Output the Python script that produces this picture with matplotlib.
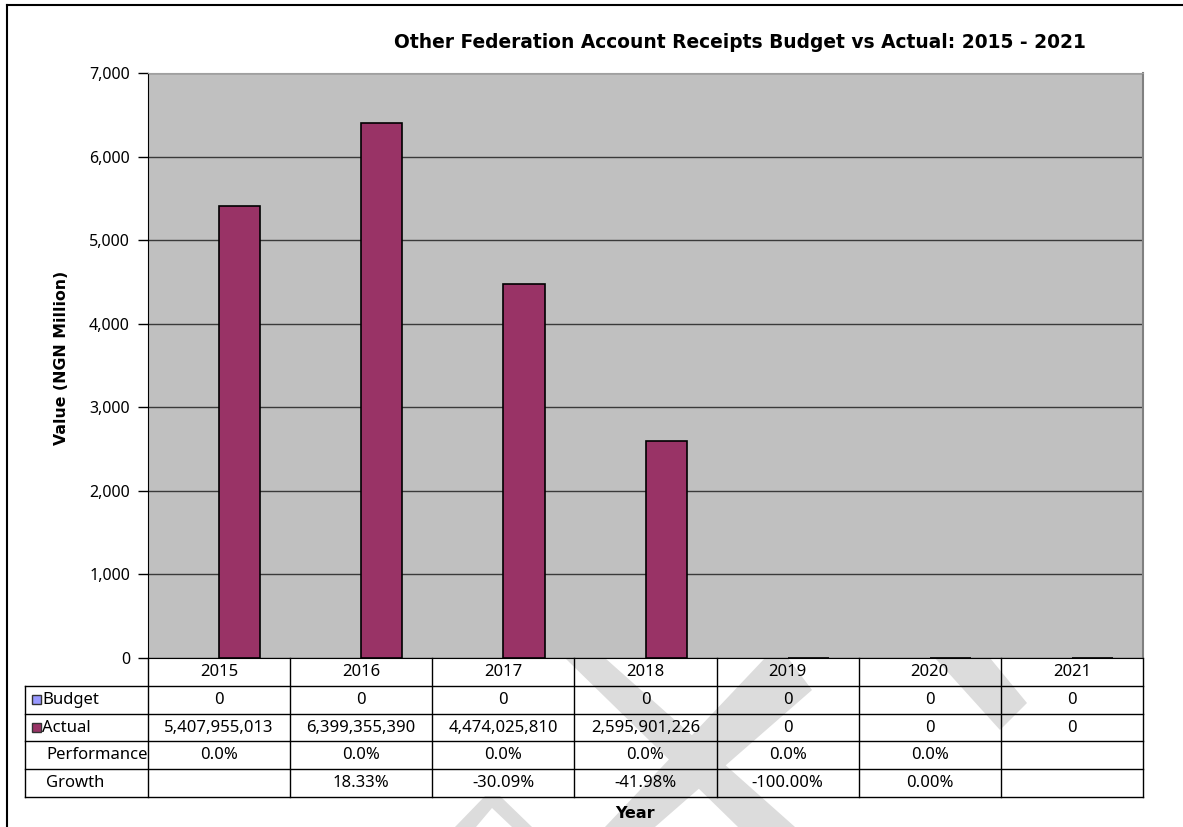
import numpy as np
import matplotlib.pyplot as plt
from matplotlib.lines import Line2D
from matplotlib.patches import Polygon, Rectangle
from matplotlib.ticker import FuncFormatter

plt.rcParams['font.family'] = ['Noto Sans', 'DejaVu Sans']

# data
years = ['2015', '2016', '2017', '2018', '2019', '2020', '2021']
budget = [0, 0, 0, 0, 0, 0, 0]
actual = [5407955013, 6399355390, 4474025810, 2595901226, 0, 0, 0]
performance = ['0.0%', '0.0%', '0.0%', '0.0%', '0.0%', '0.0%', '']
growth = ['', '18.33%', '-30.09%', '-41.98%', '-100.00%', '0.00%', '']

W, H = 1183, 827
fig = plt.figure(figsize=(W / 100, H / 100), dpi=100)
fig.patch.set_facecolor('white')

def fx(x):
    return x / W

def fy(y):
    return 1 - y / H

# watermark bits (sit behind the chart)
wm = [
    [(455, 827), (485, 796), (500, 796), (532, 827), (512, 827), (492, 808), (476, 827)],
    [(565, 658), (605, 658), (795, 827), (738, 827)],
    [(765, 658), (788, 658), (812, 690), (655, 827), (605, 827)],
    [(935, 658), (990, 658), (1027, 703), (1000, 730)],
]
for poly in wm:
    fig.add_artist(Polygon([(fx(a), fy(b)) for a, b in poly], closed=True,
                           transform=fig.transFigure, facecolor='#dcdcdc',
                           edgecolor='none', zorder=-5))

# outer frame (only top and left show)
fig.add_artist(Line2D([fx(7), fx(1183)], [fy(5), fy(5)], color='black', lw=1.5))
fig.add_artist(Line2D([fx(7), fx(7)], [fy(5), fy(827)], color='black', lw=1.5))

# main plot
L, R, T, B = 148, 1143, 73, 658
ax = fig.add_axes([fx(L), fy(B), (R - L) / W, (B - T) / H])
ax.set_facecolor('#c0c0c0')
x = np.arange(len(years))
bw = 0.29
ax.bar(x - bw / 2, np.array(budget) / 1e6, bw, color='#9999ff', edgecolor='none', zorder=3)
ax.bar(x + bw / 2, np.array(actual) / 1e6, bw, color='#993366', edgecolor='black', lw=1.2, zorder=3)
ax.set_xlim(-0.5, 6.5)
ax.set_ylim(0, 7000)
ax.set_yticks(np.arange(0, 7001, 1000))
ax.yaxis.set_major_formatter(FuncFormatter(lambda v, p: f'{v:,.0f}'))
ax.set_xticks([])
ax.tick_params(axis='y', direction='out', length=7, width=1, labelsize=11.5, pad=6)
ax.grid(axis='y', color='#3a3a3a', lw=1, zorder=1)
for s in ['left', 'bottom']:
    ax.spines[s].set_color('black')
ax.spines['top'].set_color('#a0a0a0')
ax.spines['right'].set_color('#808080')
ax.spines['right'].set_linewidth(1.5)

bold = ['DejaVu Sans']
fig.text(fx(740), fy(42), 'Other Federation Account Receipts Budget vs Actual: 2015 - 2021',
         ha='center', va='center', fontsize=13.4, fontweight='bold', family=bold)
fig.text(fx(62), fy(358), 'Value (NGN Million)', ha='center', va='center',
         rotation=90, fontsize=11.3, fontweight='bold', family=bold)
fig.text(fx(635), fy(813), 'Year', ha='center', va='center', fontsize=11.5,
         fontweight='bold', family=bold)

# data table under the plot
cw = (R - L) / 7
xl = -0.5 - (L - 25) / cw
tab = fig.add_axes([fx(25), fy(797), (R - 25) / W, (797 - B) / H])
tab.set_xlim(xl, 6.5)
tab.set_ylim(5, 0)
tab.set_axis_off()

for r in range(1, 6):
    tab.plot([xl, 6.5], [r, r], color='black', lw=1, clip_on=False)
for c in range(8):
    tab.plot([c - 0.5, c - 0.5], [0, 5], color='black', lw=1, clip_on=False)
tab.plot([xl, xl], [1, 5], color='black', lw=1, clip_on=False)

rows = [years,
        [f'{v:,}' for v in budget],
        [f'{v:,}' for v in actual],
        performance,
        growth]
for r, vals in enumerate(rows):
    for c, s in enumerate(vals):
        tab.text(c, r + 0.5, s, ha='center', va='center', fontsize=12)

def px2d(p):
    return -0.5 + (p - L) / cw

for r, (lab, col) in enumerate([('Budget', '#9999ff'), ('Actual', '#993366')]):
    sq = 9 / cw
    tab.add_patch(Rectangle((px2d(32), r + 1.5 - 0.17), sq, 0.34, facecolor=col,
                            edgecolor='#333333', lw=1))
    tab.text(px2d(42), r + 1.5, lab, ha='left', va='center', fontsize=12)
tab.text(px2d(46), 3.5, 'Performance', ha='left', va='center', fontsize=12)
tab.text(px2d(46), 4.5, 'Growth', ha='left', va='center', fontsize=12)

fig.savefig('out.png', dpi=100, facecolor='white')
